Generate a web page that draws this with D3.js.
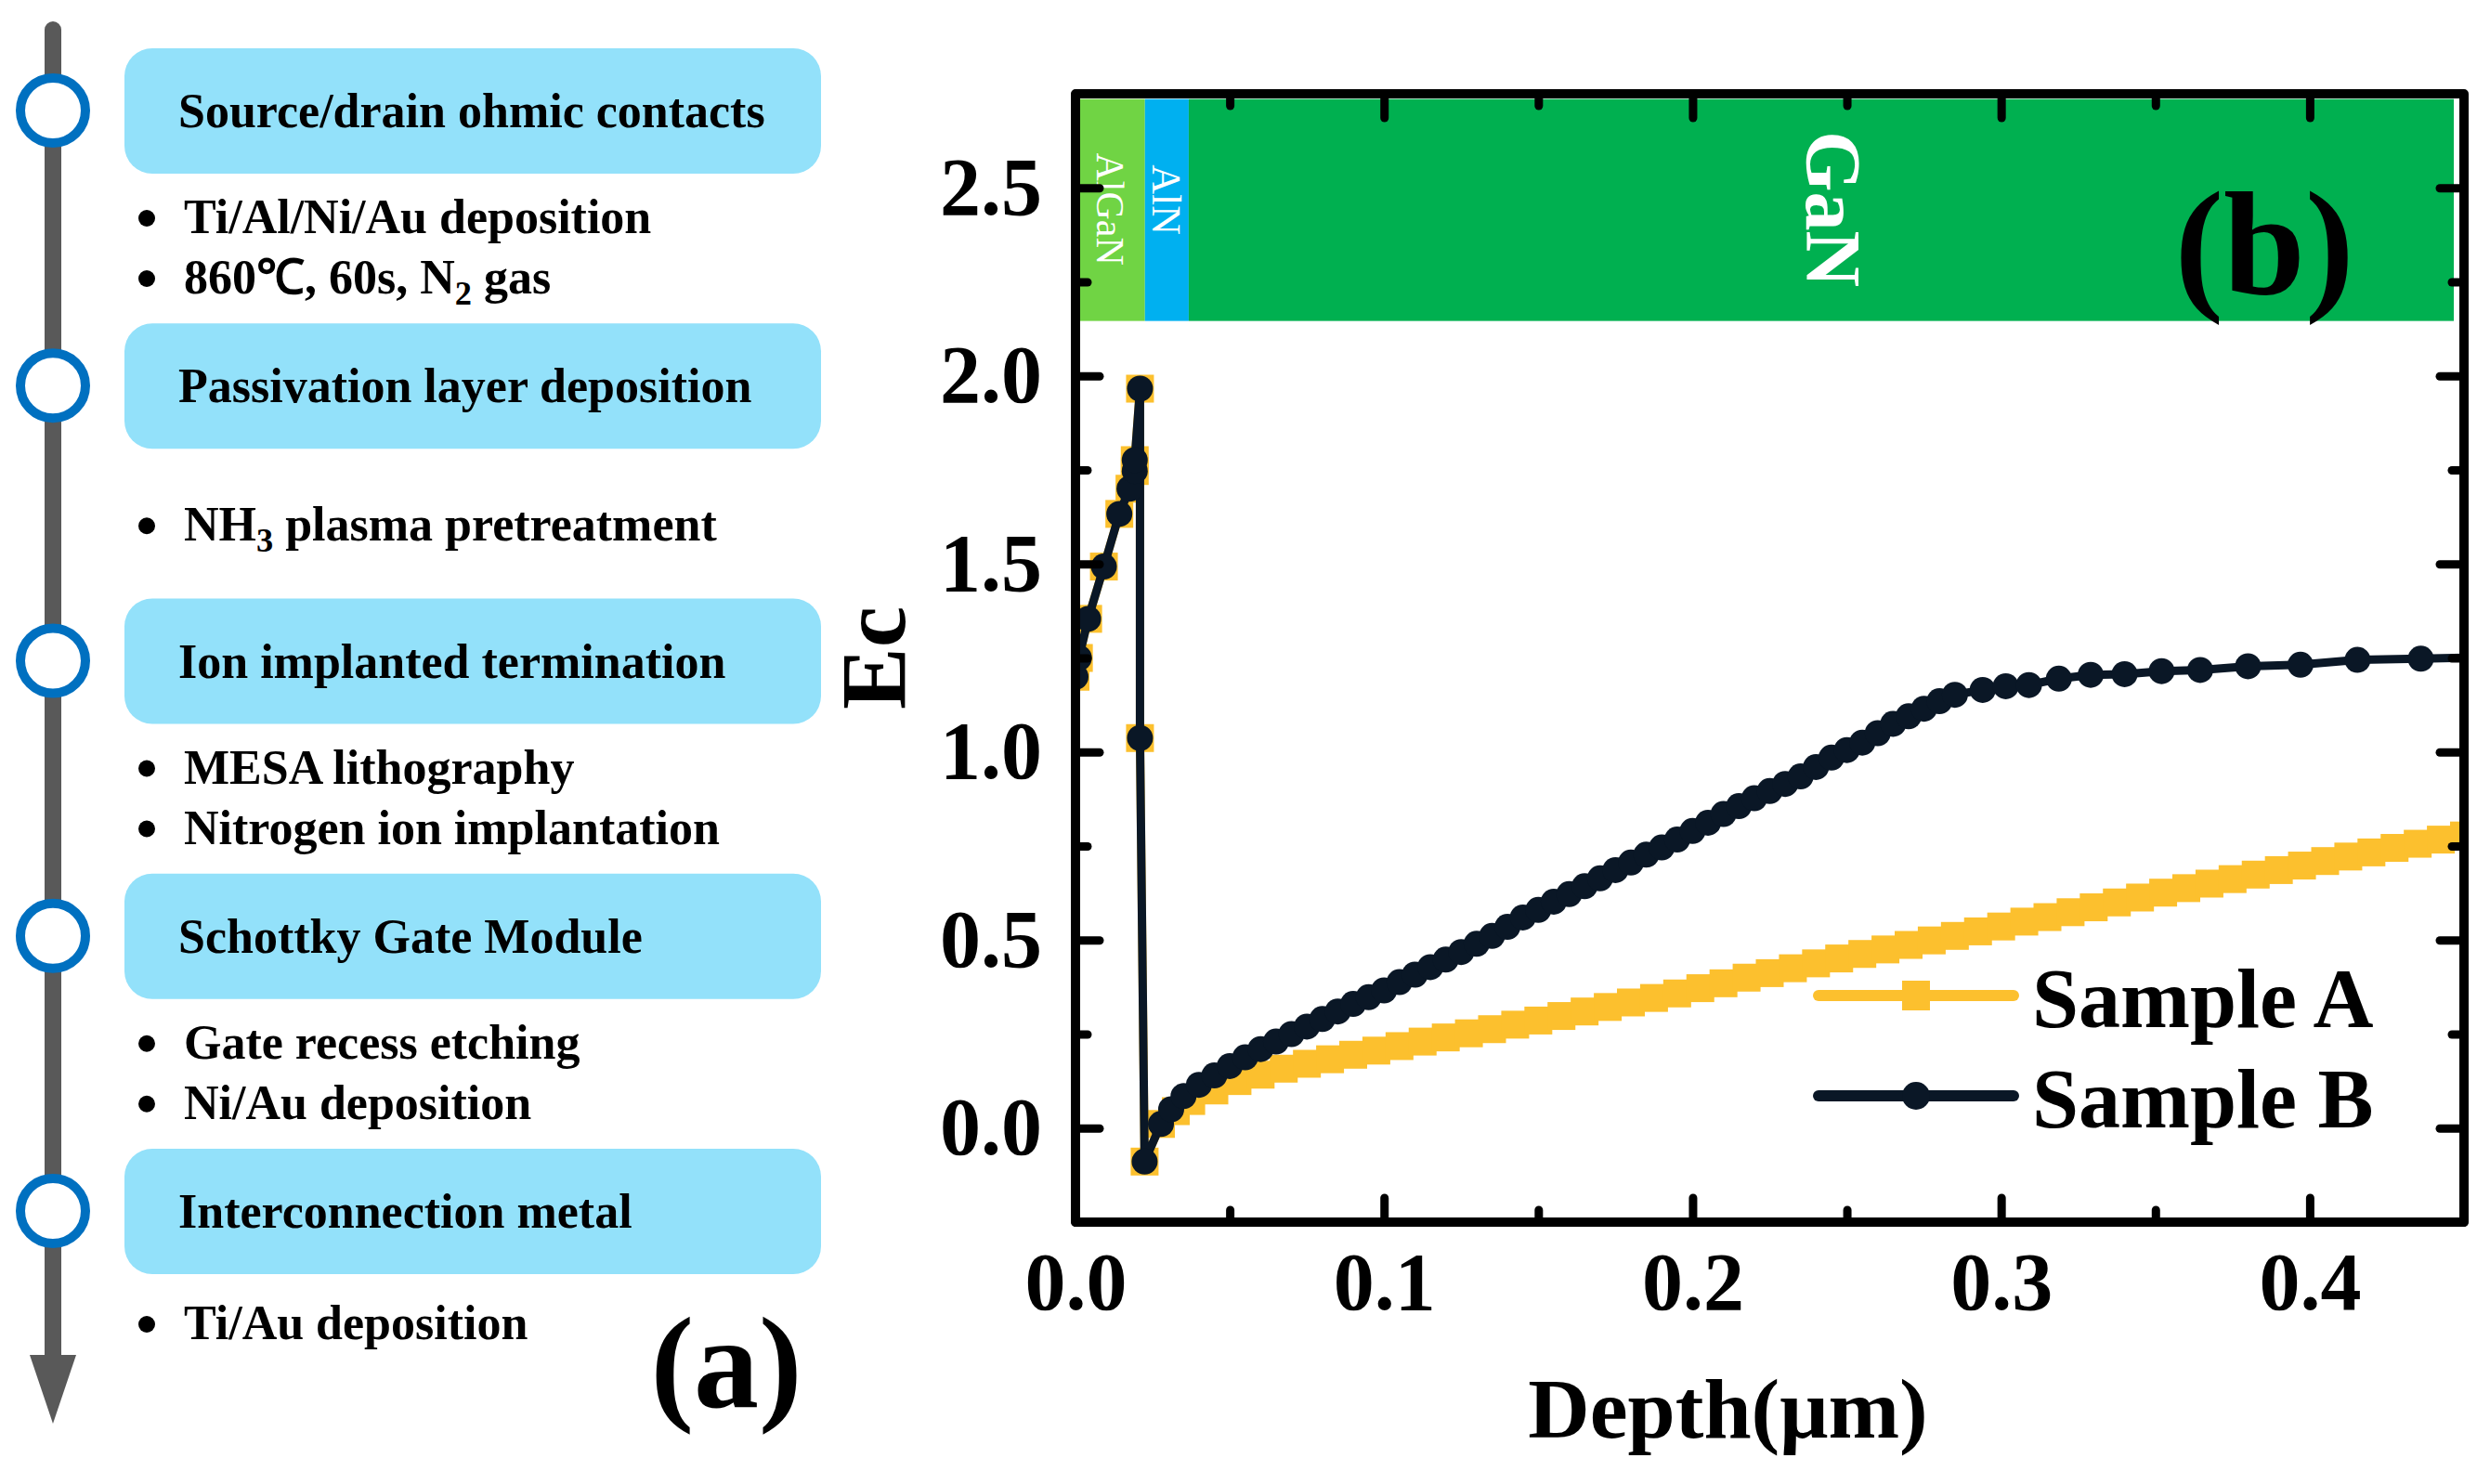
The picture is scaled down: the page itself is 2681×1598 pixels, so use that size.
<!DOCTYPE html>
<html>
<head>
<meta charset="utf-8">
<script src="https://cdn.jsdelivr.net/npm/d3@7"></script>
<style>
  body { margin: 0; background: #fff; }
</style>
</head>
<body>
<div id="chart"></div>
<script>
// process flow (panel a)
const steps = [
  "Source/drain ohmic contacts",
  "Passivation layer deposition",
  "Ion implanted termination",
  "Schottky Gate Module",
  "Interconnection metal"
];
const stepNotes = [
  ["Ti/Al/Ni/Au deposition", "860℃, 60s, N_2 gas"],
  ["NH_3 plasma pretreatment"],
  ["MESA lithography", "Nitrogen ion implantation"],
  ["Gate recess etching", "Ni/Au deposition"],
  ["Ti/Au deposition"]
];

// epitaxial layers (panel b)
const layerNames = ["AlGaN", "AlN", "GaN"];
const layerStart = [0, 0.0225, 0.0367];
const layerEnd = [0.0225, 0.0367, 0.4467];
const layerTop = 2.736;
const layerBottom = 2.146;

// conduction band profiles
const depthA = [0, 0.0011, 0.0041, 0.0092, 0.0142, 0.0175, 0.0192, 0.0192, 0.0209, 0.0209, 0.0224, 0.0277,
  0.0325, 0.0375, 0.045, 0.0525, 0.06, 0.0675, 0.075, 0.0825, 0.09, 0.0975, 0.105, 0.1125, 0.12, 0.1275,
  0.135, 0.1425, 0.15, 0.1575, 0.165, 0.1725, 0.18, 0.1875, 0.195, 0.2025, 0.21, 0.2175, 0.225, 0.2325,
  0.24, 0.2475, 0.255, 0.2625, 0.27, 0.2775, 0.285, 0.2925, 0.3, 0.3075, 0.315, 0.3225, 0.33, 0.3375,
  0.345, 0.3525, 0.36, 0.3675, 0.375, 0.3825, 0.39, 0.3975, 0.405, 0.4125, 0.42, 0.4275, 0.435, 0.4425,
  0.45, 0.4575];
const ecA = [1.20, 1.25, 1.354, 1.493, 1.633, 1.70, 1.747, 1.776, 1.966, 1.037, -0.089, 0.011,
  0.045, 0.072, 0.100, 0.125, 0.142, 0.158, 0.171, 0.183, 0.195, 0.206, 0.218, 0.230, 0.241, 0.252,
  0.263, 0.275, 0.286, 0.298, 0.310, 0.322, 0.334, 0.346, 0.358, 0.372, 0.385, 0.400, 0.412, 0.425,
  0.438, 0.451, 0.463, 0.475, 0.487, 0.499, 0.511, 0.523, 0.536, 0.549, 0.561, 0.574, 0.587, 0.600,
  0.613, 0.626, 0.638, 0.650, 0.662, 0.674, 0.686, 0.698, 0.710, 0.722, 0.733, 0.745, 0.756, 0.767,
  0.778, 0.789];

const depthB = [0, 0.0011, 0.0041, 0.0092, 0.0142, 0.0175, 0.0192, 0.0192, 0.0209, 0.0209, 0.0224, 0.0277,
  0.031, 0.035, 0.04, 0.045, 0.05, 0.055, 0.06, 0.065, 0.07, 0.075, 0.08, 0.085, 0.09, 0.095, 0.1,
  0.105, 0.11, 0.115, 0.12, 0.125, 0.13, 0.135, 0.14, 0.145, 0.15, 0.155, 0.16, 0.165, 0.17, 0.175,
  0.18, 0.185, 0.19, 0.195, 0.2, 0.205, 0.21, 0.215, 0.22, 0.225, 0.23, 0.235, 0.24, 0.245, 0.25,
  0.255, 0.26, 0.265, 0.27, 0.275, 0.28, 0.285, 0.294, 0.3015, 0.309, 0.3187, 0.329, 0.34, 0.352,
  0.3645, 0.38, 0.397, 0.4155, 0.436, 0.458];
const ecB = [1.20, 1.25, 1.354, 1.493, 1.633, 1.70, 1.747, 1.776, 1.966, 1.037, -0.089, 0.011,
  0.05, 0.085, 0.115, 0.140, 0.165, 0.188, 0.210, 0.230, 0.250, 0.270, 0.290, 0.310, 0.330, 0.348, 0.366,
  0.388, 0.408, 0.428, 0.448, 0.468, 0.490, 0.511, 0.535, 0.560, 0.580, 0.602, 0.622, 0.643, 0.664, 0.686,
  0.706, 0.727, 0.746, 0.767, 0.790, 0.812, 0.835, 0.856, 0.877, 0.896, 0.915, 0.935, 0.960, 0.985, 1.005,
  1.025, 1.050, 1.075, 1.095, 1.115, 1.135, 1.152, 1.165, 1.175, 1.178, 1.195, 1.205, 1.207, 1.215,
  1.218, 1.228, 1.232, 1.245, 1.248, 1.252];

const seriesNames = ["Sample A", "Sample B"];
const xTicks = [0, 0.1, 0.2, 0.3, 0.4];
const xMinor = [0.05, 0.15, 0.25, 0.35];
const yTicks = [0, 0.5, 1.0, 1.5, 2.0, 2.5];
const yMinor = [-0.25, 0.25, 0.75, 1.25, 1.75, 2.25];

const W = 2681, H = 1598;
const serif = "'Liberation Serif', 'Times New Roman', serif";
const layerColors = ["#70D444", "#00B0F0", "#00B050"];
const colorA = "#FCC02E", colorB = "#0A1726";

const svg = d3.select("#chart").append("svg")
  .attr("width", W)
  .attr("height", H)
  .attr("viewBox", `0 0 ${W} ${H}`)
  .attr("font-family", serif)
  .attr("font-weight", "bold");

// ---------- panel (a): process flow ----------
const flowX = 57;
const stepY = d3.scaleLinear().domain([0, steps.length - 1]).range([119, 1304]);

svg.append("line")
  .attr("x1", flowX).attr("x2", flowX)
  .attr("y1", 32).attr("y2", 1462)
  .attr("stroke", "#595959")
  .attr("stroke-width", 18)
  .attr("stroke-linecap", "round");
svg.append("path")
  .attr("d", `M${flowX - 25},1459 L${flowX + 25},1459 L${flowX},1533 Z`)
  .attr("fill", "#595959");

// writes text with "_n" turned into a subscript
function richText(sel, str) {
  const parts = str.split(/_(\d)/);
  parts.forEach((p, i) => {
    if (!p) return;
    if (i % 2 === 1) {
      sel.append("tspan").attr("font-size", "0.7em").attr("dy", 12).text(p);
    } else {
      const t = sel.append("tspan").text(p);
      if (i > 0) t.attr("dy", -12);
    }
  });
}

const step = svg.selectAll("g.step")
  .data(steps)
  .join("g")
  .attr("class", "step")
  .attr("transform", (d, i) => `translate(0,${stepY(i)})`);

step.append("rect")
  .attr("x", 134).attr("y", -67)
  .attr("width", 750).attr("height", 135)
  .attr("rx", 30).attr("ry", 30)
  .attr("fill", "#93E1FA");

step.append("circle")
  .attr("cx", flowX).attr("cy", 0)
  .attr("r", 35)
  .attr("fill", "#fff")
  .attr("stroke", "#0070C0")
  .attr("stroke-width", 10);

step.append("text")
  .attr("x", 192).attr("y", 18)
  .attr("font-size", 52)
  .text(d => d);

step.each(function (d, i) {
  const notes = stepNotes[i];
  let offs;
  if (notes.length === 2) offs = [132, 197];
  else if (i === steps.length - 1) offs = [138];
  else offs = [167];
  const g = d3.select(this);
  notes.forEach((n, k) => {
    g.append("circle")
      .attr("cx", 158).attr("cy", offs[k] - 16)
      .attr("r", 9)
      .attr("fill", "#000");
    const t = g.append("text")
      .attr("x", 198).attr("y", offs[k])
      .attr("font-size", 52);
    richText(t, n);
  });
});

svg.append("text")
  .attr("x", 782).attr("y", 1515)
  .attr("text-anchor", "middle")
  .attr("font-size", 140)
  .text("(a)");

// ---------- panel (b): Ec vs depth ----------
const plot = { left: 1158, right: 2653, top: 101, bottom: 1316 };

const x = d3.scaleLinear().domain([0, 0.45]).range([plot.left, plot.right]);
const y = d3.scaleLinear().domain([-0.25, 2.75]).range([plot.bottom, plot.top]);

svg.append("defs").append("clipPath")
  .attr("id", "plot-clip")
  .append("rect")
  .attr("x", plot.left).attr("y", plot.top)
  .attr("width", plot.right - plot.left)
  .attr("height", plot.bottom - plot.top);

// layer band
const layers = svg.append("g").attr("clip-path", "url(#plot-clip)");
layers.selectAll("rect")
  .data(layerNames)
  .join("rect")
  .attr("x", (d, i) => x(layerStart[i]))
  .attr("width", (d, i) => x(layerEnd[i]) - x(layerStart[i]))
  .attr("y", y(layerTop))
  .attr("height", y(layerBottom) - y(layerTop))
  .attr("fill", (d, i) => layerColors[i]);

const layerFont = [42, 44, 84];
const layerWeight = ["normal", "normal", "bold"];
const layerShift = [0, -10, 0];
layers.selectAll("text")
  .data(layerNames)
  .join("text")
  .attr("transform", (d, i) => {
    const cx = i === 2 ? x(0.2457) : (x(layerStart[i]) + x(layerEnd[i])) / 2;
    const cy = (y(layerTop) + y(layerBottom)) / 2 - 1 + layerShift[i];
    return `translate(${cx},${cy}) rotate(90)`;
  })
  .attr("text-anchor", "middle")
  .attr("dy", "0.35em")
  .attr("fill", "#fff")
  .attr("font-size", (d, i) => layerFont[i])
  .attr("font-weight", (d, i) => layerWeight[i])
  .text(d => d);

svg.append("text")
  .attr("x", 2438).attr("y", 316)
  .attr("text-anchor", "middle")
  .attr("font-size", 158)
  .text("(b)");

// curves
const curves = svg.append("g").attr("clip-path", "url(#plot-clip)");
const line = d3.line().x(d => x(d[0])).y(d => y(d[1]));
const ptsA = depthA.map((d, i) => [d, ecA[i]]);
const ptsB = depthB.map((d, i) => [d, ecB[i]]);

curves.append("path")
  .datum(ptsA)
  .attr("d", line)
  .attr("fill", "none")
  .attr("stroke", colorA)
  .attr("stroke-width", 9)
  .attr("stroke-linejoin", "round");
curves.selectAll("rect.ma")
  .data(ptsA)
  .join("rect")
  .attr("class", "ma")
  .attr("x", d => x(d[0]) - 15)
  .attr("y", d => y(d[1]) - 15)
  .attr("width", 30).attr("height", 30)
  .attr("fill", colorA);

curves.append("path")
  .datum(ptsB)
  .attr("d", line)
  .attr("fill", "none")
  .attr("stroke", colorB)
  .attr("stroke-width", 9)
  .attr("stroke-linejoin", "round");
curves.selectAll("circle.mb")
  .data(ptsB)
  .join("circle")
  .attr("class", "mb")
  .attr("cx", d => x(d[0]))
  .attr("cy", d => y(d[1]))
  .attr("r", 14)
  .attr("fill", colorB);

// axes: inward ticks on all four sides
function styleAxis(g) {
  g.select(".domain").remove();
  g.attr("font-family", serif).attr("font-size", 88).attr("font-weight", "bold");
  g.selectAll("line").attr("stroke", "#000").attr("stroke-width", 9).attr("stroke-linecap", "round");
  g.selectAll("text").attr("fill", "#000");
}

svg.append("g")
  .attr("transform", `translate(0,${plot.bottom})`)
  .call(d3.axisBottom(x).tickValues(xTicks).tickSize(-26).tickFormat(d3.format(".1f")))
  .call(styleAxis)
  .call(g => g.selectAll("text").attr("dy", null).attr("y", 94));
svg.append("g")
  .attr("transform", `translate(0,${plot.bottom})`)
  .call(d3.axisBottom(x).tickValues(xMinor).tickSize(-13).tickFormat(""))
  .call(styleAxis);
svg.append("g")
  .attr("transform", `translate(0,${plot.top})`)
  .call(d3.axisTop(x).tickValues(xTicks).tickSize(-26).tickFormat(""))
  .call(styleAxis);
svg.append("g")
  .attr("transform", `translate(0,${plot.top})`)
  .call(d3.axisTop(x).tickValues(xMinor).tickSize(-13).tickFormat(""))
  .call(styleAxis);

svg.append("g")
  .attr("transform", `translate(${plot.left},0)`)
  .call(d3.axisLeft(y).tickValues(yTicks).tickSize(-26).tickPadding(36).tickFormat(d3.format(".1f")))
  .call(styleAxis);
svg.append("g")
  .attr("transform", `translate(${plot.left},0)`)
  .call(d3.axisLeft(y).tickValues(yMinor).tickSize(-13).tickFormat(""))
  .call(styleAxis);
svg.append("g")
  .attr("transform", `translate(${plot.right},0)`)
  .call(d3.axisRight(y).tickValues(yTicks).tickSize(-26).tickFormat(""))
  .call(styleAxis);
svg.append("g")
  .attr("transform", `translate(${plot.right},0)`)
  .call(d3.axisRight(y).tickValues(yMinor).tickSize(-13).tickFormat(""))
  .call(styleAxis);

svg.append("rect")
  .attr("x", plot.left).attr("y", plot.top)
  .attr("width", plot.right - plot.left)
  .attr("height", plot.bottom - plot.top)
  .attr("fill", "none")
  .attr("stroke", "#000")
  .attr("stroke-width", 10)
  .attr("stroke-linejoin", "round");

// axis titles
svg.append("text")
  .attr("transform", `translate(974,${y(1.25)}) rotate(-90)`)
  .attr("text-anchor", "middle")
  .attr("font-size", 100)
  .text("Ec");
svg.append("text")
  .attr("x", (plot.left + plot.right) / 2 - 45)
  .attr("y", 1548)
  .attr("text-anchor", "middle")
  .attr("font-size", 92)
  .text("Depth(μm)");

// legend
const legendY = [1072, 1180];
const legend = svg.selectAll("g.legend")
  .data(seriesNames)
  .join("g")
  .attr("class", "legend")
  .attr("transform", (d, i) => `translate(1958,${legendY[i]})`);
legend.append("line")
  .attr("x1", 0).attr("x2", 210)
  .attr("stroke", (d, i) => i === 0 ? colorA : colorB)
  .attr("stroke-width", 12)
  .attr("stroke-linecap", "round");
legend.filter((d, i) => i === 0).append("rect")
  .attr("x", 90).attr("y", -16).attr("width", 30).attr("height", 32)
  .attr("fill", colorA);
legend.filter((d, i) => i === 1).append("circle")
  .attr("cx", 105).attr("r", 15)
  .attr("fill", colorB);
legend.append("text")
  .attr("x", 230).attr("y", 34)
  .attr("font-size", 90)
  .text(d => d);
</script>
</body>
</html>
